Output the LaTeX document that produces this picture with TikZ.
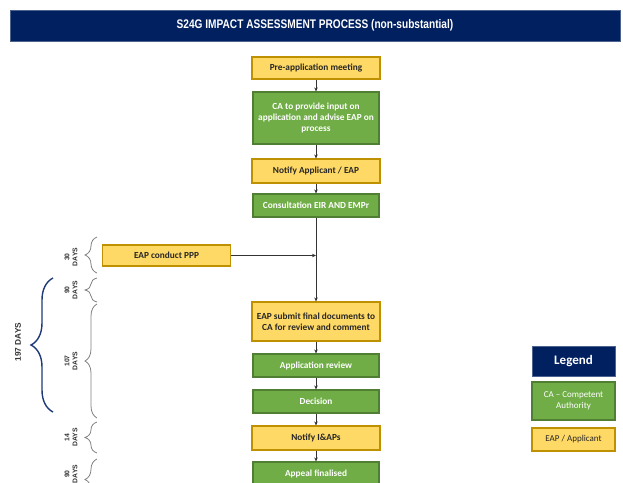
\documentclass[tikz,border=0pt]{standalone}
\usepackage{fontspec}
\setmainfont{Carlito}
\newfontfamily\titlefont{Liberation Sans}
\usetikzlibrary{arrows.meta,decorations.pathreplacing}
\definecolor{navy}{HTML}{002060}
\definecolor{eapfill}{HTML}{FFD966}
\definecolor{eapline}{HTML}{BF9000}
\definecolor{cafill}{HTML}{70AD47}
\definecolor{caline}{HTML}{507E32}
\definecolor{bracegray}{HTML}{808080}
\definecolor{braceblue}{HTML}{1F3A78}
\tikzset{
  box/.style={draw, line width=1.1pt, inner sep=0pt, align=center, font=\bfseries\fontsize{9.3}{11}\selectfont},
  eapbox/.style={box, fill=eapfill, draw=eapline, text=black!85},
  cabox/.style={box, fill=cafill, draw=caline, text=white},
  flow/.style={-{Stealth[length=4pt,width=3.5pt]}, line width=0.7pt, black!80},
  daybrace/.style={draw=bracegray, line width=0.8pt, decorate, decoration={brace, amplitude=12pt}},
  daylabel/.style={rotate=90, align=center, font=\titlefont\bfseries\fontsize{6.8}{8}\selectfont, text=black!80, inner sep=0pt},
}
\begin{document}
\begin{tikzpicture}[x=1pt, y=-1pt]
\useasboundingbox (0,0) rectangle (623,482);
\clip (0,0) rectangle (623,482);

% title bar
\node[fill=navy, draw=navy!70!white, minimum width=610pt, minimum height=31pt, inner sep=0pt, text=white,
      font=\titlefont\bfseries\fontsize{12.5}{14}\selectfont] (title) at (315,25.5)
  {\scalebox{0.81}[1]{S24G IMPACT ASSESSMENT PROCESS (non-substantial)}};

% process steps
\node[eapbox, minimum width=128pt, minimum height=22pt] (pre) at (316,68) {Pre-application meeting};
\node[cabox, minimum width=126pt, minimum height=52pt] (input) at (316,118) {CA to provide input on\\application and advise EAP on\\process};
\node[eapbox, minimum width=128pt, minimum height=24pt] (notify) at (316,171) {Notify Applicant / EAP};
\node[cabox, minimum width=126pt, minimum height=23pt] (consult) at (316,205.5) {Consultation EIR AND EMPr};
\node[eapbox, minimum width=128pt, minimum height=21pt] (ppp) at (166.5,255.5) {EAP conduct PPP};
\node[eapbox, minimum width=128pt, minimum height=39pt] (submit) at (316,321.5) {EAP submit final documents to\\CA for review and comment};
\node[cabox, minimum width=126pt, minimum height=23pt] (review) at (316,365.5) {Application review};
\node[cabox, minimum width=126pt, minimum height=23pt] (decision) at (316,401.5) {Decision};
\node[eapbox, minimum width=128pt, minimum height=24pt] (iap) at (316,438) {Notify I\&APs};
\node[cabox, minimum width=126pt, minimum height=24pt] (appeal) at (316,474) {Appeal finalised};

% connectors
\draw[flow] (pre) -- (input);
\draw[flow] (input) -- (notify);
\draw[flow] (notify) -- (consult);
\draw[flow] (consult) -- (submit);
\coordinate (join) at (316,255.5);
\draw[flow] (ppp.east) -- (join);
\draw[flow] (submit) -- (review);
\draw[flow] (review) -- (decision);
\draw[flow] (decision) -- (iap);
\draw[flow] (iap) -- (appeal);

% duration braces
\coordinate (b1s) at (97,273); \coordinate (b1e) at (97,237);
\coordinate (b2s) at (97,302); \coordinate (b2e) at (97,278);
\coordinate (b3s) at (97,418); \coordinate (b3e) at (97,304);
\coordinate (b4s) at (97,453); \coordinate (b4e) at (97,422);
\coordinate (b5s) at (97,500); \coordinate (b5e) at (97,459);
\draw[daybrace] (b1s) -- (b1e);
\draw[daybrace] (b2s) -- (b2e);
\draw[daybrace] (b3s) -- (b3e);
\draw[daybrace] (b4s) -- (b4e);
\draw[daybrace] (b5s) -- (b5e);
\node[daylabel] (d1) at (71,257) {30\\DAYS};
\node[daylabel] (d2) at (71,290) {90\\DAYS};
\node[daylabel] (d3) at (71,361) {107\\DAYS};
\node[daylabel] (d4) at (71,437.5) {14\\DAYS};
\node[daylabel] (d5) at (71,474) {90\\DAYS};

% overall brace
\coordinate (bts) at (53,412); \coordinate (bte) at (53,278);
\draw[draw=braceblue, line width=1.4pt, decorate, decoration={brace, amplitude=22pt}] (bts) -- (bte);
\node[daylabel, font=\titlefont\bfseries\fontsize{8.3}{9.5}\selectfont] (total) at (18,342) {197 DAYS};

% legend
\node[fill=navy, draw=navy!70!white, minimum width=83pt, minimum height=30pt, inner sep=0pt, text=white,
      font=\bfseries\fontsize{13}{15}\selectfont] (leg) at (573.5,361) {Legend};
\node[cabox, font=\fontsize{9}{11}\selectfont, minimum width=83pt, minimum height=38pt] (legca) at (573.5,401) {CA -- Competent\\Authority};
\node[eapbox, font=\fontsize{9}{11}\selectfont, minimum width=83pt, minimum height=23pt] (legeap) at (573.5,439.5) {EAP / Applicant};
\end{tikzpicture}
\end{document}
